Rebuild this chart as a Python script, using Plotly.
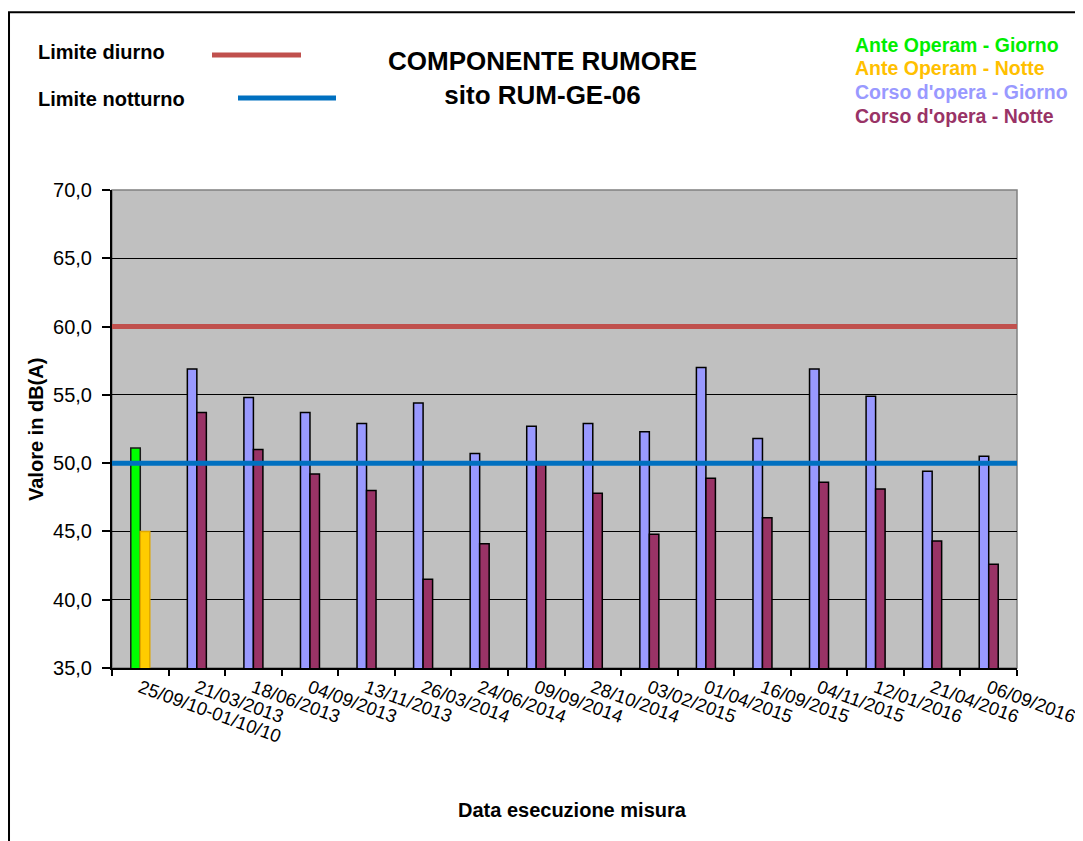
import plotly.graph_objects as go

categories = ["25/09/10-01/10/10", "21/03/2013", "18/06/2013", "04/09/2013", "13/11/2013",
              "26/03/2014", "24/06/2014", "09/09/2014", "28/10/2014", "03/02/2015",
              "01/04/2015", "16/09/2015", "04/11/2015", "12/01/2016", "21/04/2016", "06/09/2016"]
ante_giorno = [51.1] + [None] * 15
ante_notte = [45.0] + [None] * 15
corso_giorno = [None, 56.9, 54.8, 53.7, 52.9, 54.4, 50.7, 52.7, 52.9, 52.3, 57.0, 51.8, 56.9, 54.9, 49.4, 50.5]
corso_notte = [None, 53.7, 51.0, 49.2, 48.0, 41.5, 44.1, 49.9, 47.8, 44.8, 48.9, 46.0, 48.6, 48.1, 44.3, 42.6]
limite_diurno = 60.0
limite_notturno = 50.0

FONT = "Arial, 'Liberation Sans', sans-serif"

fig = go.Figure()
fig.add_trace(go.Bar(x=categories, y=ante_giorno, name="Ante Operam - Giorno", offsetgroup="g",
                     marker=dict(color="#00FF00", line=dict(color="#1a1a1a", width=1.5))))
fig.add_trace(go.Bar(x=categories, y=ante_notte, name="Ante Operam - Notte", offsetgroup="n",
                     marker=dict(color="#FFCC00", line=dict(color="#E0A800", width=1.5))))
fig.add_trace(go.Bar(x=categories, y=corso_giorno, name="Corso d'opera - Giorno", offsetgroup="g",
                     marker=dict(color="#9999FF", line=dict(color="#000000", width=1.5))))
fig.add_trace(go.Bar(x=categories, y=corso_notte, name="Corso d'opera - Notte", offsetgroup="n",
                     marker=dict(color="#993366", line=dict(color="#000000", width=1.5))))

# limit lines
fig.add_shape(type="line", xref="paper", yref="y", x0=0, x1=1, y0=limite_diurno, y1=limite_diurno,
              line=dict(color="#C0504D", width=5), layer="above")
fig.add_shape(type="line", xref="paper", yref="y", x0=0, x1=1, y0=limite_notturno, y1=limite_notturno,
              line=dict(color="#0070C0", width=5), layer="above")
# plot area border (gray)
fig.add_shape(type="rect", xref="paper", yref="paper", x0=0, x1=1, y0=0, y1=1,
              line=dict(color="#808080", width=1.5), layer="below")

# outer chart border (extends past the right/bottom edges)
fig.add_shape(type="rect", xref="paper", yref="paper", x0=-0.1138, x1=1.2, y0=-0.5, y1=1.372,
              line=dict(color="#000000", width=2))

# helpers: page pixel -> paper coords (plot area spans x 112..1017, y 190..668 on the page)
H = 478.0
W = 905.0
def px_x(px):
    return (px - 112) / W
def px_y(py):
    return (668 - py) / H

fig.add_annotation(xref="paper", yref="paper", x=px_x(36), y=px_y(52), xanchor="left", yanchor="middle",
                   text="<b>Limite diurno</b>", showarrow=False, font=dict(family=FONT, size=20, color="black"))
fig.add_annotation(xref="paper", yref="paper", x=px_x(36), y=px_y(99), xanchor="left", yanchor="middle",
                   text="<b>Limite notturno</b>", showarrow=False, font=dict(family=FONT, size=20, color="black"))
fig.add_shape(type="line", xref="paper", yref="paper", x0=px_x(212), x1=px_x(301), y0=px_y(55), y1=px_y(55),
              line=dict(color="#C0504D", width=5))
fig.add_shape(type="line", xref="paper", yref="paper", x0=px_x(238), x1=px_x(336), y0=px_y(98), y1=px_y(98),
              line=dict(color="#0070C0", width=5))

# custom legend: series (top-right)
leg = [("Ante Operam - Giorno", "#00EE00", 45), ("Ante Operam - Notte", "#FFC000", 68),
       ("Corso d'opera - Giorno", "#9999FF", 92), ("Corso d'opera - Notte", "#993366", 116)]
for t, c, yy in leg:
    fig.add_annotation(xref="paper", yref="paper", x=px_x(853), y=px_y(yy), xanchor="left", yanchor="middle",
                       text=f"<b>{t}</b>", showarrow=False, font=dict(family=FONT, size=19.5, color=c))

# title
fig.add_annotation(xref="paper", yref="paper", x=px_x(542), y=px_y(78), xanchor="center", yanchor="middle",
                   text="<b>COMPONENTE RUMORE<br>sito RUM-GE-06</b>", showarrow=False,
                   font=dict(family=FONT, size=26, color="black"))

# axis titles
fig.add_annotation(xref="paper", yref="paper", x=px_x(36), y=px_y(430), xanchor="center", yanchor="middle",
                   text="<b>Valore in dB(A)</b>", textangle=-90, showarrow=False,
                   font=dict(family=FONT, size=20, color="black"))
fig.add_annotation(xref="paper", yref="paper", x=px_x(572), y=px_y(810), xanchor="center", yanchor="middle",
                   text="<b>Data esecuzione misura</b>", showarrow=False,
                   font=dict(family=FONT, size=20, color="black"))

# page has an 8px body margin: figure placed at (8, 8) reaches the window's right/bottom edges
fig.update_layout(
    width=1075, height=833, autosize=False,
    margin=dict(l=104, r=66, t=182, b=173),
    paper_bgcolor="white", plot_bgcolor="#C0C0C0",
    barmode="group", bargap=0.664, bargroupgap=0,
    showlegend=False,
    separators=", ",
    font=dict(family=FONT, color="black"),
)
fig.update_yaxes(range=[35, 70], dtick=5, tickformat=".1f", showgrid=True, gridcolor="#000000", gridwidth=1,
                 ticks="outside", ticklen=8, tickcolor="black", tickwidth=2, automargin=False,
                 ticklabelstandoff=6,
                 showline=True, linecolor="black", linewidth=2, zeroline=False,
                 tickfont=dict(family=FONT, size=20, color="black"))
fig.update_xaxes(type="category", tickson="boundaries", ticks="outside", ticklen=6, tickcolor="black", tickwidth=2,
                 showline=True, linecolor="black", linewidth=2, showgrid=False, automargin=False,
                 tickangle=20, tickfont=dict(family=FONT, size=18.5, color="black"))

fig.write_html("out.html")
